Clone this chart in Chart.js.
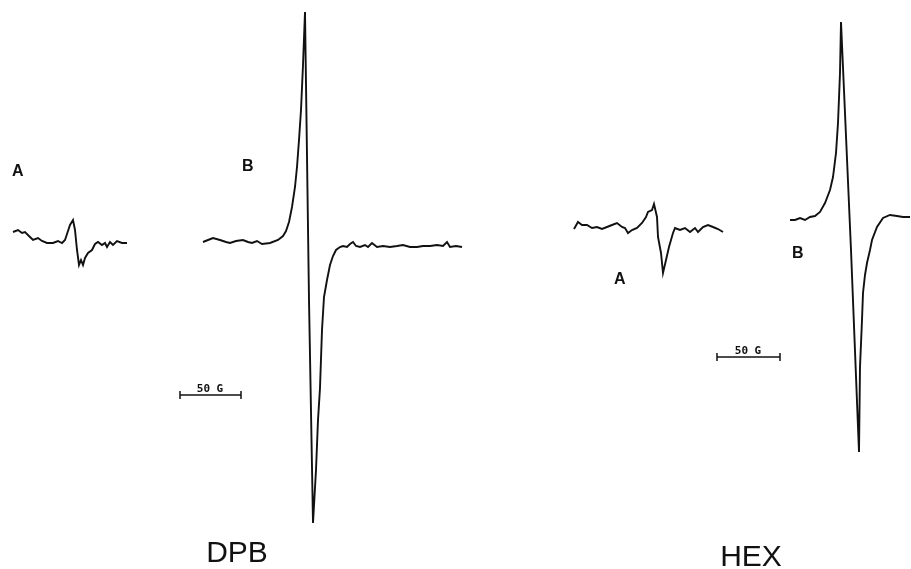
<!DOCTYPE html>
<html>
<head>
<meta charset="utf-8">
<script src="https://cdn.jsdelivr.net/npm/chart.js@4/dist/chart.umd.min.js"></script>
<style>
  html, body { margin: 0; padding: 0; background: #fff; }
  #c { display: block; }
</style>
</head>
<body>
<canvas id="c" width="911" height="569"></canvas>
<script>
// EPR traces: [field position, signal] in plot units

const dpbA = [
  [13,232],[18,230],[22,233],[25,232],[30,237],[33,240],[38,238],[42,241],[47,243],
  [53,243],[58,241],[62,243],[65,240],[68,231],[70,225],[73,220],[75,230],[77,250],
  [79,265],[81,260],[83,265],[85,258],[88,253],[92,250],[95,244],[98,242],[102,245],
  [105,243],[107,247],[110,242],[113,245],[117,241],[122,243],[127,243]
];

const dpbB = [
  [203,242],[208,240],[213,238],[220,240],[226,242],[230,243],[236,241],[243,240],
  [248,242],[252,243],[257,241],[262,244],[270,243],[278,240],[283,236],[286,231],
  [289,222],[292,207],[295,187],[297,167],[299,140],[301,110],[303,65],[305,12],
  [309,300],[313,523],[316,470],[318,420],[320,388],[322,330],[324,297],[327,280],
  [330,265],[333,256],[336,250],[340,247],[343,246],[347,247],[350,244],[353,242],
  [356,246],[360,247],[365,245],[368,247],[372,243],[377,247],[383,246],[390,247],
  [397,246],[403,245],[410,247],[417,247],[423,246],[430,246],[437,245],[443,246],
  [447,242],[450,247],[456,246],[462,247]
];

const hexA = [
  [574,229],[578,222],[582,225],[587,225],[592,228],[597,227],[602,229],[607,227],
  [612,225],[617,223],[622,227],[625,228],[628,233],[632,230],[637,228],[642,223],
  [646,217],[648,212],[652,210],[654,204],[657,217],[658,237],[661,253],[663,273],
  [666,260],[669,247],[673,233],[675,228],[680,230],[685,228],[690,232],[695,228],
  [698,232],[703,227],[708,225],[713,227],[718,229],[723,232]
];

const hexB = [
  [790,220],[795,220],[800,218],[805,220],[810,217],[815,216],[820,212],[825,203],
  [830,190],[833,177],[836,153],[838,123],[840,73],[841,22],[851,250],[859,452],
  [860,367],[862,320],[863,293],[865,275],[867,263],[870,250],[872,240],[877,227],
  [883,218],[890,215],[897,216],[903,217],[910,217]
];

// 50 G scale bars
const barDPB = [[180,395],[241,395]];
const barHEX = [[717,357],[780,357]];

const traceLabels = ['A', 'B', 'A', 'B'];
const traceLabelPos = [[12,172],[242,167],[614,280],[792,254]];
const barLabels = ['50 G', '50 G'];
const barLabelPos = [[210,389],[748,351]];
const panelNames = ['DPB', 'HEX'];
const panelNamePos = [[237,562],[751,566]];

const ink = '#111';

function trace(pts) {
  return {
    data: pts.map(p => ({ x: p[0], y: p[1] })),
    showLine: true,
    borderColor: ink,
    borderWidth: 1.9,
    pointRadius: 0,
    tension: 0
  };
}

function bar(pts) {
  return {
    data: pts.map(p => ({ x: p[0], y: p[1] })),
    showLine: true,
    borderColor: ink,
    borderWidth: 1.3,
    pointStyle: 'line',
    rotation: 90,
    pointRadius: 4,
    pointBorderColor: ink,
    pointBorderWidth: 1.5
  };
}

const textPlugin = {
  id: 'figText',
  afterDatasetsDraw(chart) {
    const ctx = chart.ctx;
    const x = chart.scales.x, y = chart.scales.y;
    ctx.save();
    ctx.fillStyle = ink;
    ctx.textAlign = 'left';
    ctx.textBaseline = 'middle';
    ctx.font = 'bold 16px "Liberation Sans", Arial, sans-serif';
    traceLabels.forEach((t, i) => {
      ctx.fillText(t, x.getPixelForValue(traceLabelPos[i][0]), y.getPixelForValue(traceLabelPos[i][1]));
    });
    ctx.textAlign = 'center';
    ctx.font = 'bold 11px "DejaVu Sans Mono", monospace';
    barLabels.forEach((t, i) => {
      ctx.fillText(t, x.getPixelForValue(barLabelPos[i][0]), y.getPixelForValue(barLabelPos[i][1]));
    });
    ctx.textBaseline = 'alphabetic';
    ctx.font = '30px "Liberation Sans", Arial, sans-serif';
    panelNames.forEach((t, i) => {
      ctx.fillText(t, x.getPixelForValue(panelNamePos[i][0]), y.getPixelForValue(panelNamePos[i][1]));
    });
    ctx.restore();
  }
};

new Chart(document.getElementById('c'), {
  type: 'scatter',
  data: {
    datasets: [trace(dpbA), trace(dpbB), trace(hexA), trace(hexB), bar(barDPB), bar(barHEX)]
  },
  options: {
    responsive: false,
    animation: false,
    layout: { padding: 0, autoPadding: false },
    plugins: { legend: { display: false }, tooltip: { enabled: false } },
    scales: {
      x: { type: 'linear', min: 0, max: 911, display: false },
      y: { type: 'linear', min: 0, max: 569, reverse: true, display: false }
    }
  },
  plugins: [textPlugin]
});
</script>
</body>
</html>
